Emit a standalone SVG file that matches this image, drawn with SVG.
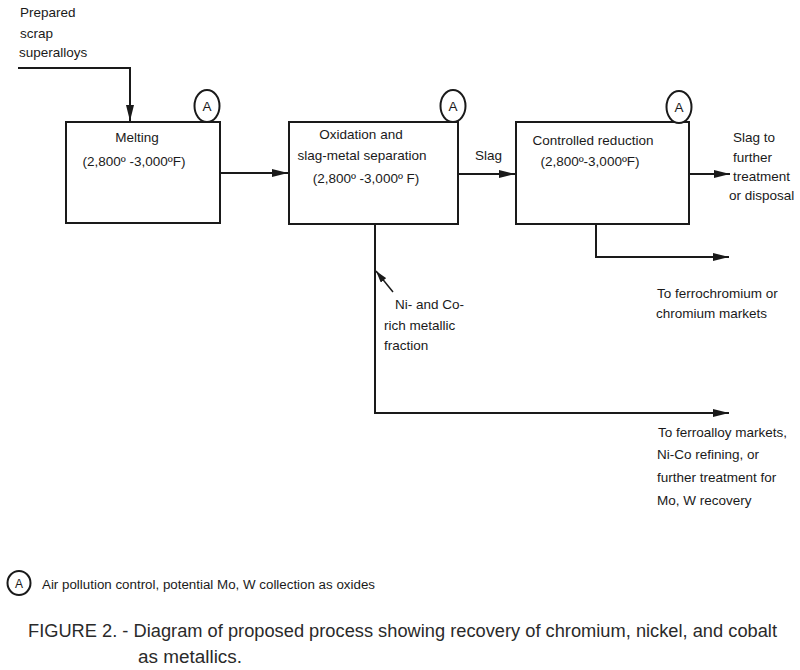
<svg xmlns="http://www.w3.org/2000/svg" width="800" height="670" viewBox="0 0 800 670">
<style>
text{font-family:"Liberation Sans",Arial,sans-serif;fill:#1a1a1a}
.t{font-size:13.5px}
.c{text-anchor:middle}
.box{fill:#fff;stroke:#1a1a1a;stroke-width:2}
.ln{fill:none;stroke:#1a1a1a;stroke-width:2}
.circ{fill:#fff;stroke:#1a1a1a;stroke-width:2}
.cap{font-family:"Liberation Sans",Arial,sans-serif;font-size:17.5px;fill:#2a2a2a}
</style>
<defs>
<marker id="ah" viewBox="0 0 16 8" refX="16" refY="4" markerWidth="16" markerHeight="8" markerUnits="userSpaceOnUse" orient="auto">
<path d="M0,0 L16,4 L0,8 Z" fill="#1a1a1a"/>
</marker>
<marker id="ahs" viewBox="0 0 12 7" refX="12" refY="3.5" markerWidth="12" markerHeight="7" markerUnits="userSpaceOnUse" orient="auto">
<path d="M0,0 L12,3.5 L0,7 Z" fill="#1a1a1a"/>
</marker>
</defs>
<rect width="800" height="670" fill="#fff"/>

<g id="input">
<text class="t" x="20" y="17">Prepared</text>
<text class="t" x="20" y="38">scrap</text>
<text class="t" x="19" y="57">superalloys</text>
</g>

<g id="connectors">
<path class="ln" d="M18,68 H130 V121" marker-end="url(#ah)"/>
<path class="ln" d="M221,173 H288" marker-end="url(#ah)"/>
<path class="ln" d="M459,174 H515" marker-end="url(#ah)"/>
<path class="ln" d="M690,174 H730" marker-end="url(#ah)"/>
<path class="ln" d="M596,224 V257 H729" marker-end="url(#ah)"/>
<path class="ln" d="M375,224 V413 H729" marker-end="url(#ah)"/>
<path d="M393,292 L376,271" fill="none" stroke="#1a1a1a" stroke-width="1.5" marker-end="url(#ahs)"/>
<text class="t" x="475" y="160">Slag</text>
</g>

<g id="melting">
<rect class="box" x="66" y="122" width="154" height="101"/>
<text class="t c" x="137" y="142">Melting</text>
<text class="t c" x="134" y="166">(2,800º -3,000ºF)</text>
</g>
<g id="a1">
<ellipse class="circ" cx="207" cy="106" rx="12.5" ry="16"/>
<text class="t c" x="207" y="111">A</text>
</g>

<g id="oxidation">
<rect class="box" x="289" y="122" width="169" height="102"/>
<text class="t c" x="361" y="139">Oxidation and</text>
<text class="t c" x="362" y="160">slag-metal separation</text>
<text class="t c" x="366" y="183">(2,800º -3,000º F)</text>
</g>
<g id="a2">
<ellipse class="circ" cx="453" cy="106" rx="12.5" ry="16"/>
<text class="t c" x="453" y="111">A</text>
</g>

<g id="reduction">
<rect class="box" x="516" y="122" width="173" height="102"/>
<text class="t c" x="593" y="145">Controlled reduction</text>
<text class="t c" x="590" y="166">(2,800º-3,000ºF)</text>
</g>
<g id="a3">
<ellipse class="circ" cx="679" cy="107" rx="12.5" ry="16"/>
<text class="t c" x="679" y="112">A</text>
</g>

<g id="slag-out">
<text class="t" x="733" y="142">Slag to</text>
<text class="t" x="733" y="162">further</text>
<text class="t" x="733" y="181">treatment</text>
<text class="t" x="729" y="200">or disposal</text>
</g>

<g id="ferrochromium">
<text class="t" x="657" y="298">To ferrochromium or</text>
<text class="t" x="656" y="318">chromium  markets</text>
</g>

<g id="metallic-fraction">
<text class="t" x="395" y="309">Ni- and Co-</text>
<text class="t" x="384" y="330">rich metallic</text>
<text class="t" x="384" y="350">fraction</text>
</g>

<g id="ferroalloy">
<text class="t" x="658" y="437">To ferroalloy markets,</text>
<text class="t" x="657" y="459">Ni-Co refining, or</text>
<text class="t" x="657" y="482">further treatment for</text>
<text class="t" x="657" y="505">Mo, W recovery</text>
</g>

<g id="legend">
<ellipse class="circ" cx="19" cy="583" rx="11.5" ry="12"/>
<text x="19" y="588" class="c" font-size="12px">A</text>
<text x="42" y="589" font-size="12.5px" textLength="333" lengthAdjust="spacingAndGlyphs">Air pollution control, potential Mo, W collection as oxides</text>
</g>

<g id="caption">
<text class="cap" x="28" y="637" textLength="749" lengthAdjust="spacingAndGlyphs">FIGURE 2. - Diagram of proposed process showing recovery of chromium, nickel, and cobalt</text>
<text class="cap" x="138" y="663" textLength="104" lengthAdjust="spacingAndGlyphs">as metallics.</text>
</g>
</svg>
